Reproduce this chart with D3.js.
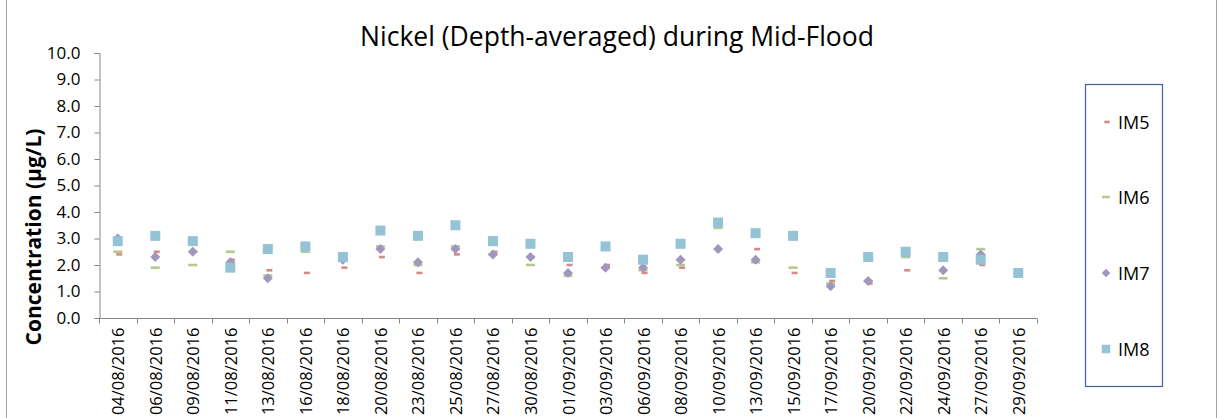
<!DOCTYPE html>
<html>
<head>
<meta charset="utf-8">
<script src="https://cdn.jsdelivr.net/npm/d3@7/dist/d3.min.js"></script>
<style>
  html, body { margin: 0; padding: 0; background: #fff; }
  svg { display: block; }
  text { font-family: "Open Sans", "Noto Sans", sans-serif; fill: #000; }
</style>
</head>
<body>
<svg id="chart" width="1220" height="418"></svg>
<script>
// Sampling dates (x categories)
const categories = [
  "04/08/2016", "06/08/2016", "09/08/2016", "11/08/2016", "13/08/2016",
  "16/08/2016", "18/08/2016", "20/08/2016", "23/08/2016", "25/08/2016",
  "27/08/2016", "30/08/2016", "01/09/2016", "03/09/2016", "06/09/2016",
  "08/09/2016", "10/09/2016", "13/09/2016", "15/09/2016", "17/09/2016",
  "20/09/2016", "22/09/2016", "24/09/2016", "27/09/2016", "29/09/2016"
];

// Depth-averaged nickel concentration (µg/L) per station
const im5 = [2.4, 2.5, 2.5, 2.2, 1.8, 1.7, 1.9, 2.3, 1.7, 2.4, 2.5, 2.3, 2.0,
             2.0, 1.7, 1.9, 3.5, 2.6, 1.7, 1.4, 1.3, 1.8, 2.3, 2.0, 1.7];
const im6 = [2.5, 1.9, 2.0, 2.5, 1.6, 2.5, 2.3, 2.7, 2.0, 2.7, 2.4, 2.0, 1.6,
             1.9, 1.8, 2.0, 3.4, 2.1, 1.9, 1.3, 1.4, 2.3, 1.5, 2.6, 1.7];
const im7 = [3.0, 2.3, 2.5, 2.1, 1.5, 2.7, 2.2, 2.6, 2.1, 2.6, 2.4, 2.3, 1.7,
             1.9, 1.9, 2.2, 2.6, 2.2, 3.1, 1.2, 1.4, 2.5, 1.8, 2.4, 1.7];
const im8 = [2.9, 3.1, 2.9, 1.9, 2.6, 2.7, 2.3, 3.3, 3.1, 3.5, 2.9, 2.8, 2.3,
             2.7, 2.2, 2.8, 3.6, 3.2, 3.1, 1.7, 2.3, 2.5, 2.3, 2.2, 1.7];

const yTicks = [0, 1, 2, 3, 4, 5, 6, 7, 8, 9, 10];

const seriesNames = ["IM5", "IM6", "IM7", "IM8"];
const seriesValues = [im5, im6, im7, im8];

const svg = d3.select("#chart");
const W = 1220, H = 418;
const plot = { left: 99, right: 1037, top: 53, bottom: 318 };

// Outer chart frame
svg.append("rect")
  .attr("x", 6.5).attr("y", -2)
  .attr("width", 1210).attr("height", H + 10)
  .attr("fill", "#fff").attr("stroke", "#a6a6a6").attr("stroke-width", 1);

const x = d3.scaleBand().domain(categories).range([plot.left, plot.right]).padding(0);
const y = d3.scaleLinear().domain([0, 10]).range([plot.bottom, plot.top]);

const axisColor = "#868686";

// Y axis
const yAxis = svg.append("g")
  .attr("transform", `translate(${plot.left + 0.5},0)`)
  .call(d3.axisLeft(y).tickValues(yTicks).tickFormat(d3.format(".1f")).tickSize(5).tickPadding(14));
yAxis.select(".domain").attr("stroke", axisColor);
yAxis.selectAll(".tick line").attr("stroke", axisColor);
yAxis.selectAll(".tick text")
  .attr("fill", "#000")
  .style("font-size", "17px");

// X axis with tick marks on category boundaries
const xAxisG = svg.append("g").attr("transform", `translate(0,${plot.bottom + 0.5})`);
xAxisG.append("line")
  .attr("x1", plot.left).attr("x2", plot.right)
  .attr("stroke", axisColor);
const boundaries = categories.map(c => x(c)).concat([x(categories[categories.length - 1]) + x.bandwidth()]);
xAxisG.selectAll("line.tick")
  .data(boundaries).enter().append("line")
  .attr("class", "tick")
  .attr("x1", d => Math.round(d) + 0.5).attr("x2", d => Math.round(d) + 0.5)
  .attr("y1", 0).attr("y2", 5)
  .attr("stroke", axisColor);
xAxisG.selectAll("text")
  .data(categories).enter().append("text")
  .attr("transform", d => `translate(${x(d) + x.bandwidth() / 2},9) rotate(-90)`)
  .attr("text-anchor", "end")
  .attr("dominant-baseline", "central")
  .style("font-size", "16.5px")
  .text(d => d);

// Title
svg.append("text")
  .attr("x", 617).attr("y", 46)
  .attr("text-anchor", "middle")
  .style("font-size", "26.5px")
  .text("Nickel (Depth-averaged) during Mid-Flood");

// Y axis title
svg.append("text")
  .attr("transform", "translate(33,237) rotate(-90)")
  .attr("text-anchor", "middle")
  .attr("dominant-baseline", "central")
  .style("font-size", "21px")
  .style("font-weight", "bold")
  .text("Concentration (µg/L)");

// Marker styles per station
const markers = {
  IM5: { color: "#d58a8a", draw: (g, s) => g.append("rect").attr("x", -3 + 1.5 * s).attr("y", -1.3).attr("width", 6 * s).attr("height", 2.6) },
  IM6: { color: "#b4cb8d", draw: (g, s) => g.append("rect").attr("x", -4.5 * s).attr("y", -1.3).attr("width", 9 * s).attr("height", 2.6) },
  IM7: { color: "#a296bf", draw: (g, s) => g.append("path").attr("d", `M0,${-5 * s}L${5 * s},0L0,${5 * s}L${-5 * s},0Z`) },
  IM8: { color: "#93c3d5", draw: (g, s) => g.append("rect").attr("x", -5 * s).attr("y", -5 * s).attr("width", 10 * s).attr("height", 10 * s) }
};

// Data points (IM8 drawn last, on top)
seriesNames.forEach((name, si) => {
  const vals = seriesValues[si];
  const g = svg.append("g").attr("class", "series-" + name);
  categories.forEach((c, i) => {
    const mg = g.append("g")
      .attr("transform", `translate(${x(c) + x.bandwidth() / 2},${y(vals[i])})`);
    markers[name].draw(mg, 1).attr("fill", markers[name].color);
  });
});

// Legend
const legend = svg.append("g");
legend.append("rect")
  .attr("x", 1085.5).attr("y", 84.5)
  .attr("width", 77).attr("height", 302)
  .attr("fill", "#fff").attr("stroke", "#41619a").attr("stroke-width", 1.2);
const legendY = [122, 197, 273, 349];
seriesNames.forEach((name, i) => {
  const lg = legend.append("g").attr("transform", `translate(1106,${legendY[i]})`);
  const scale = name === "IM5" ? 0.9 : 0.85;
  markers[name].draw(lg, scale).attr("fill", markers[name].color);
  lg.append("text")
    .attr("x", 12).attr("y", 0)
    .attr("dominant-baseline", "central")
    .style("font-size", "18px")
    .text(name);
});
</script>
</body>
</html>
